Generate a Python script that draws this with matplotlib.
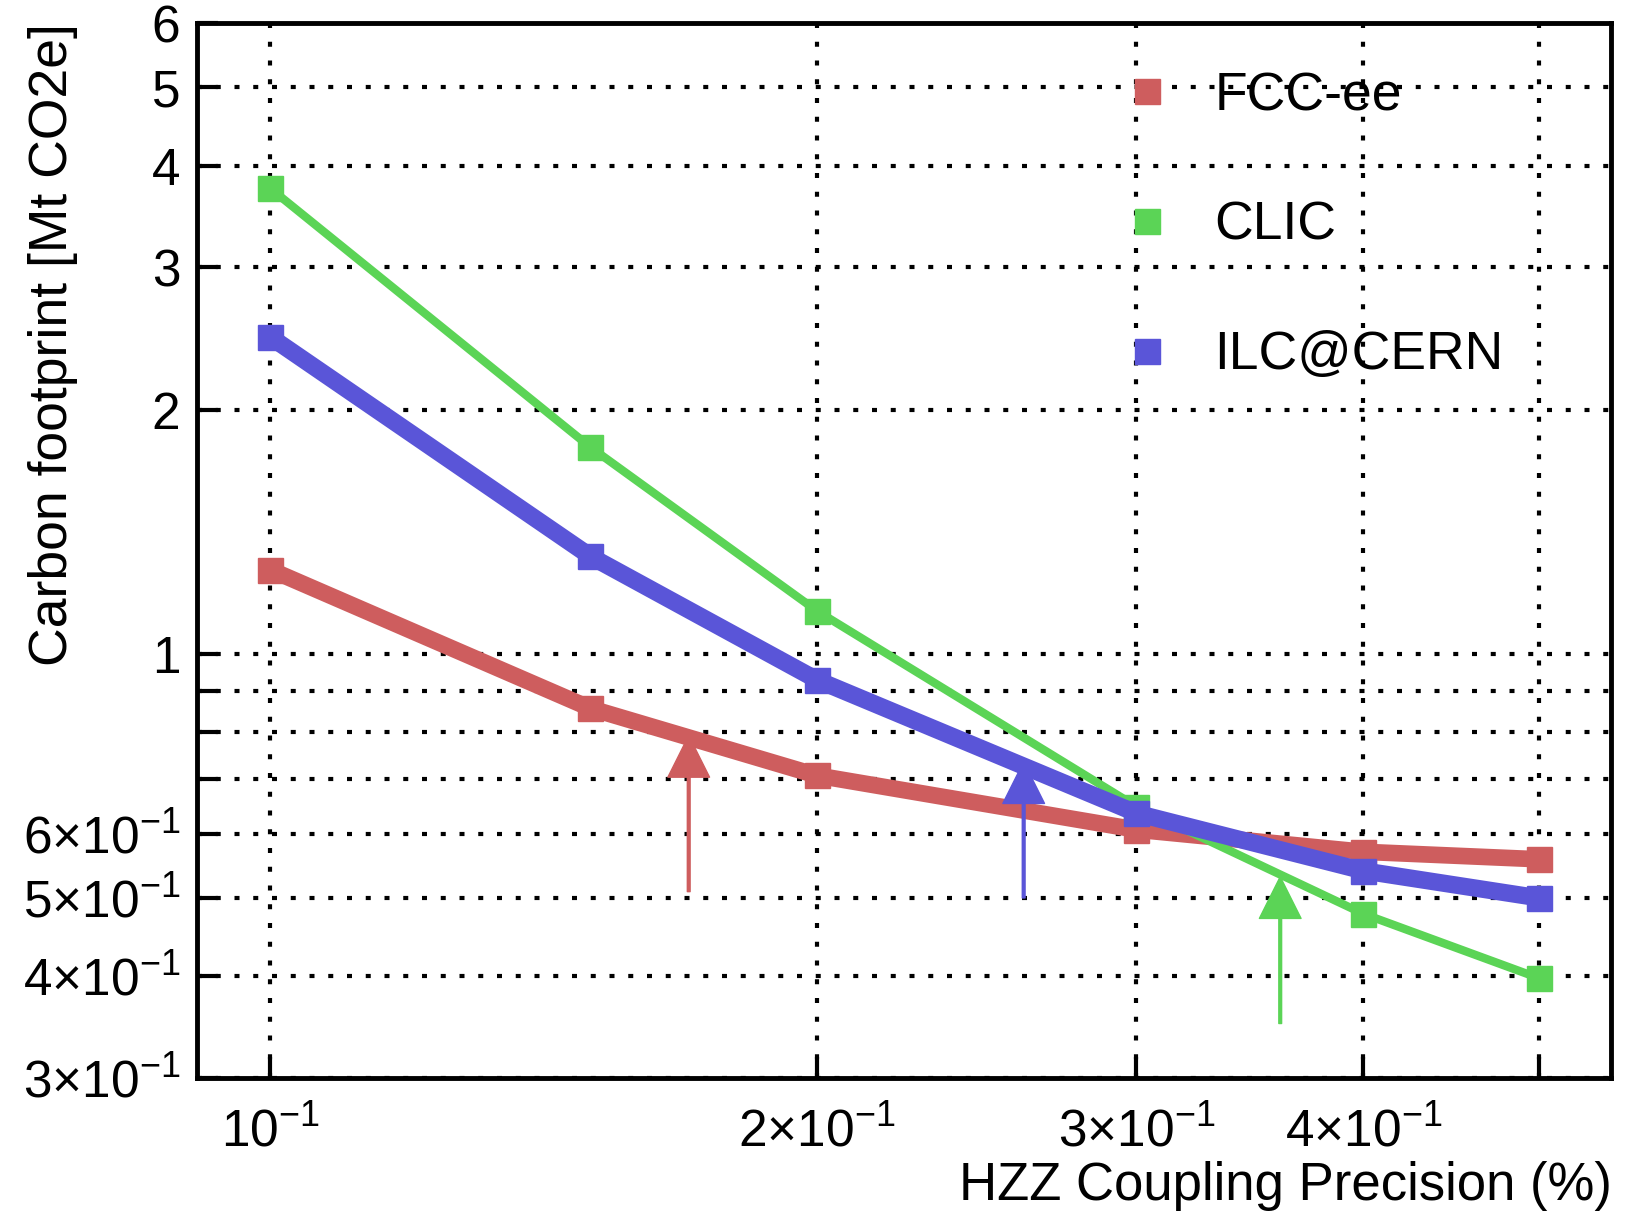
import matplotlib
matplotlib.use('Agg')
import matplotlib.pyplot as plt
from matplotlib.lines import Line2D

plt.rcParams['font.family'] = ['Liberation Sans', 'DejaVu Sans']
plt.rcParams['mathtext.default'] = 'regular'

# data
precision = [0.1, 0.15, 0.2, 0.3, 0.4, 0.5]
fcc_ee = [1.27, 0.857, 0.708, 0.607, 0.570, 0.558]
clic = [3.75, 1.80, 1.13, 0.648, 0.478, 0.398]
ilc_cern = [2.46, 1.32, 0.929, 0.636, 0.540, 0.500]

# arrows: x position, start, tip
arrow_x = [0.17, 0.26, 0.36]
arrow_start = [0.509, 0.500, 0.350]
arrow_tip = [0.793, 0.736, 0.531]

xticks = [0.1, 0.2, 0.3, 0.4, 0.5]
xticklabels = ['$10^{-1}$', '$2{\\times}10^{-1}$', '$3{\\times}10^{-1}$', '$4{\\times}10^{-1}$', '']
yticks = [0.3, 0.4, 0.5, 0.6, 0.7, 0.8, 0.9, 1, 2, 3, 4, 5, 6]
yticklabels = ['$3{\\times}10^{-1}$', '$4{\\times}10^{-1}$', '$5{\\times}10^{-1}$', '$6{\\times}10^{-1}$',
               '', '', '', '1', '2', '3', '4', '5', '6']

c_red = '#ce5d5e'
c_green = '#5bd456'
c_blue = '#5a55d8'

fig = plt.figure(figsize=(16.41, 12.11), dpi=100)
ax = fig.add_axes([0.120, 0.110, 0.862, 0.871])

ax.set_xscale('log')
ax.set_yscale('log')

ax.plot(precision, fcc_ee, color=c_red, lw=12, marker='s', markersize=18, label='FCC-ee', zorder=3)
ax.plot(precision, clic, color=c_green, lw=6, marker='s', markersize=18, label='CLIC', zorder=4)
ax.plot(precision, ilc_cern, color=c_blue, lw=12.5, marker='s', markersize=18, label='ILC@CERN', zorder=5)

for xa, y0, y1, c in zip(arrow_x, arrow_start, arrow_tip, [c_red, c_blue, c_green]):
    ax.annotate('', xy=(xa, y1), xytext=(xa, y0),
                arrowprops=dict(width=2, headwidth=30, headlength=30, color=c, shrink=0), zorder=6)

ax.set_xlim(0.0911, 0.548)
ax.set_ylim(0.3, 6)

ax.set_xticks(xticks)
ax.set_xticklabels(xticklabels)
ax.set_xticks([], minor=True)
ax.set_yticks(yticks)
ax.set_yticklabels(yticklabels)
ax.set_yticks([], minor=True)

ax.tick_params(axis='both', which='major', direction='in', length=15, width=3, labelsize=37)
ax.tick_params(axis='x', pad=21)
ax.tick_params(axis='y', pad=12)

ax.grid(True, which='major', axis='both', color='black', linewidth=3, linestyle=(0, (1.2, 3.3)))

for s in ax.spines.values():
    s.set_linewidth(3.5)

ax.set_xlabel('HZZ Coupling Precision (%)', fontsize=38, loc='right')
ax.xaxis.set_label_coords(1.0, -0.079)
ax.set_ylabel('Carbon footprint [Mt CO2e]', fontsize=38.5, loc='top')
ax.yaxis.set_label_coords(-0.084, 1.0)

handles = [Line2D([], [], color=c, marker='s', markersize=18, linestyle='none') for c in [c_red, c_green, c_blue]]
ax.legend(handles, ['FCC-ee', 'CLIC', 'ILC@CERN'], loc='upper left', bbox_to_anchor=(0.619, 1.0),
          frameon=False, fontsize=38.5, labelspacing=1.49, handletextpad=0.75, handlelength=1.0)

plt.savefig('out.png', dpi=100)
plt.close()
